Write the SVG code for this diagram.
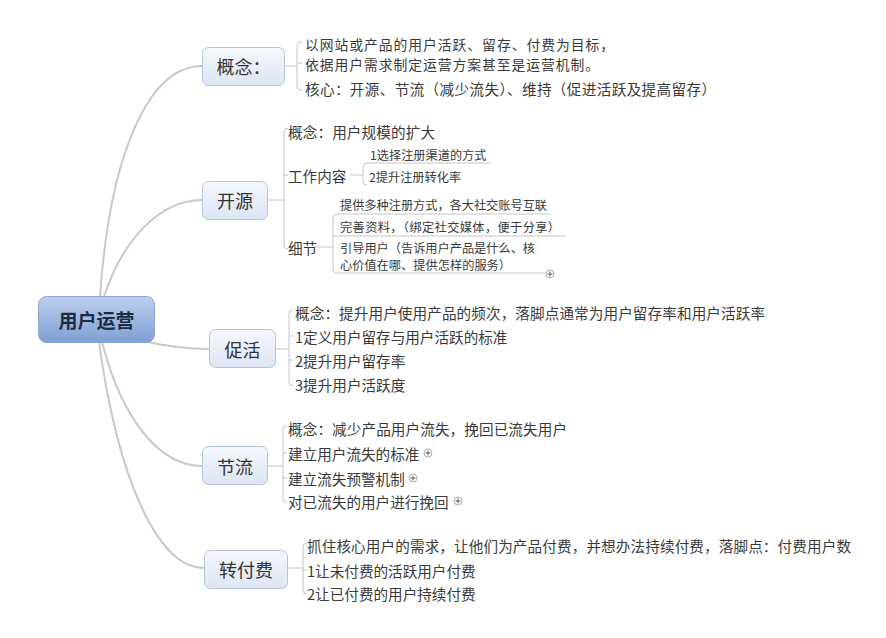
<svg xmlns="http://www.w3.org/2000/svg" width="886" height="638" viewBox="0 0 886 638">
<defs>
<linearGradient id="gNode" x1="0" y1="0" x2="0" y2="1">
<stop offset="0" stop-color="#f5f8fd"/>
<stop offset="1" stop-color="#dce5f4"/>
</linearGradient>
<linearGradient id="gRoot" x1="0" y1="0" x2="0" y2="1">
<stop offset="0" stop-color="#bccfee"/>
<stop offset="1" stop-color="#7f9fd3"/>
</linearGradient>
</defs>
<style>
.t{font-family:"Noto Sans CJK SC","Noto Sans",sans-serif;fill:#3a3a3a;dominant-baseline:central}
.c{font-size:14.6px}
.c2{font-size:13.8px}
.s{font-size:12.2px}
.n{font-size:18px;text-anchor:middle;fill:#333}
.r{font-size:19px;font-weight:bold;text-anchor:middle;fill:#1f2b45}
.box{fill:url(#gNode);stroke:#b6c5de;stroke-width:1}
.main{fill:none;stroke:#c9c9c9;stroke-width:2;stroke-linecap:round}
.br{fill:none;stroke:#c4c4c4;stroke-width:1}
.pl{fill:#fff;stroke:#9a9a9a;stroke-width:0.8}
.plx{stroke:#555;stroke-width:1}
</style>
<rect width="886" height="638" fill="#fff"/>

<g id="connectors">
<path class="main" d="M100,297 C110,150 150,66 202,66"/>
<path class="main" d="M104,297 C122,240 160,200 202,200"/>
<path class="main" d="M148,342 C175,348 190,349 209,349"/>
<path class="main" d="M102,342 C122,420 160,466 202,466"/>
<path class="main" d="M99,342 C118,480 158,568 204,568"/>

<!-- 概念 bracket -->
<path class="br" d="M284,66 H297"/>
<path class="br" d="M302,42 Q297,42 297,47 V86 Q297,90 302,90"/>
<path class="br" d="M297,63 H302"/>
<!-- 开源 bracket -->
<path class="br" d="M267,200 H284"/>
<path class="br" d="M288,128 Q284,128 284,132 V245 Q284,249 288,249"/>
<path class="br" d="M284,175 H288"/>
<path class="br" d="M350,175 H363"/>
<path class="br" d="M490,163 H367 Q363,163 363,167 V181 Q363,185 367,185"/>
<path class="br" d="M313,247 H333"/>
<path class="br" d="M550,214 H337 Q333,214 333,218 V269 Q333,273 337,273 H546"/>
<path class="br" d="M333,236 H565"/>
<!-- 促活 bracket -->
<path class="br" d="M275,349 H289"/>
<path class="br" d="M293,310 Q289,310 289,314 V382 Q289,386 293,386"/>
<path class="br" d="M289,336 H293 M289,360 H293"/>
<!-- 节流 bracket -->
<path class="br" d="M267,466 H283"/>
<path class="br" d="M287,426 Q283,426 283,430 V498 Q283,502 287,502"/>
<path class="br" d="M283,453 H287 M283,478 H287"/>
<!-- 转付费 bracket -->
<path class="br" d="M287,568 H303"/>
<path class="br" d="M307,543 Q303,543 303,547 V590 Q303,594 307,594"/>
<path class="br" d="M303,570 H307"/>
</g>

<g id="root">
<rect x="38.5" y="296.5" width="116" height="46" rx="8" fill="url(#gRoot)" stroke="#8ea8d3"/>
<text class="t r" x="96.5" y="319">用户运营</text>
</g>

<g id="n-gainian">
<rect class="box" x="202.5" y="47.5" width="82" height="38" rx="6"/>
<text class="t n" x="243.5" y="66">概念：</text>
<text class="t c2" x="305" y="44" textLength="309" lengthAdjust="spacing">以网站或产品的用户活跃、留存、付费为目标，</text>
<text class="t c2" x="305" y="64" textLength="294" lengthAdjust="spacing">依据用户需求制定运营方案甚至是运营机制。</text>
<text class="t c" x="305" y="88" textLength="411" lengthAdjust="spacing">核心：开源、节流（减少流失）、维持（促进活跃及提高留存）</text>
</g>

<g id="n-kaiyuan">
<rect class="box" x="202.5" y="181.5" width="65" height="38" rx="6"/>
<text class="t n" x="235" y="200">开源</text>
<text class="t c" x="288" y="131" textLength="147" lengthAdjust="spacing">概念：用户规模的扩大</text>
<text class="t c" x="288" y="175">工作内容</text>
<text class="t s" x="370" y="155">1选择注册渠道的方式</text>
<text class="t s" x="369" y="177">2提升注册转化率</text>
<text class="t c" x="288" y="247">细节</text>
<text class="t s" x="340" y="205" textLength="207" lengthAdjust="spacing">提供多种注册方式，各大社交账号互联</text>
<text class="t s" x="340" y="227" textLength="220" lengthAdjust="spacing">完善资料，（绑定社交媒体，便于分享）</text>
<text class="t s" x="340" y="248" textLength="195" lengthAdjust="spacing">引导用户（告诉用户产品是什么、核</text>
<text class="t s" x="340" y="265" textLength="171" lengthAdjust="spacing">心价值在哪、提供怎样的服务）</text>
<circle class="pl" cx="550" cy="274" r="4"/>
<path class="plx" d="M547.5,274 H552.5 M550,271.5 V276.5"/>
</g>

<g id="n-cuhuo">
<rect class="box" x="209.5" y="329.5" width="66" height="38" rx="6"/>
<text class="t n" x="242.5" y="349">促活</text>
<text class="t c" x="295" y="312" textLength="470" lengthAdjust="spacing">概念：提升用户使用产品的频次，落脚点通常为用户留存率和用户活跃率</text>
<text class="t c" x="295" y="336">1定义用户留存与用户活跃的标准</text>
<text class="t c" x="295" y="360">2提升用户留存率</text>
<text class="t c" x="295" y="384">3提升用户活跃度</text>
</g>

<g id="n-jieliu">
<rect class="box" x="202.5" y="446.5" width="65" height="38" rx="6"/>
<text class="t n" x="235" y="466">节流</text>
<text class="t c" x="288" y="428" textLength="279" lengthAdjust="spacing">概念：减少产品用户流失，挽回已流失用户</text>
<text class="t c" x="288" y="453">建立用户流失的标准</text>
<circle class="pl" cx="428" cy="453" r="4"/>
<path class="plx" d="M425.5,453 H430.5 M428,450.5 V455.5"/>
<text class="t c" x="288" y="478">建立流失预警机制</text>
<circle class="pl" cx="413" cy="478" r="4"/>
<path class="plx" d="M410.5,478 H415.5 M413,475.5 V480.5"/>
<text class="t c" x="288" y="501">对已流失的用户进行挽回</text>
<circle class="pl" cx="458" cy="501" r="4"/>
<path class="plx" d="M455.5,501 H460.5 M458,498.5 V503.5"/>
</g>

<g id="n-zhuanfufei">
<rect class="box" x="204.5" y="550.5" width="83" height="38" rx="6"/>
<text class="t n" x="246" y="569">转付费</text>
<text class="t c" x="307" y="545" textLength="544" lengthAdjust="spacing">抓住核心用户的需求，让他们为产品付费，并想办法持续付费，落脚点：付费用户数</text>
<text class="t c" x="307" y="570">1让未付费的活跃用户付费</text>
<text class="t c" x="307" y="593">2让已付费的用户持续付费</text>
</g>
</svg>
